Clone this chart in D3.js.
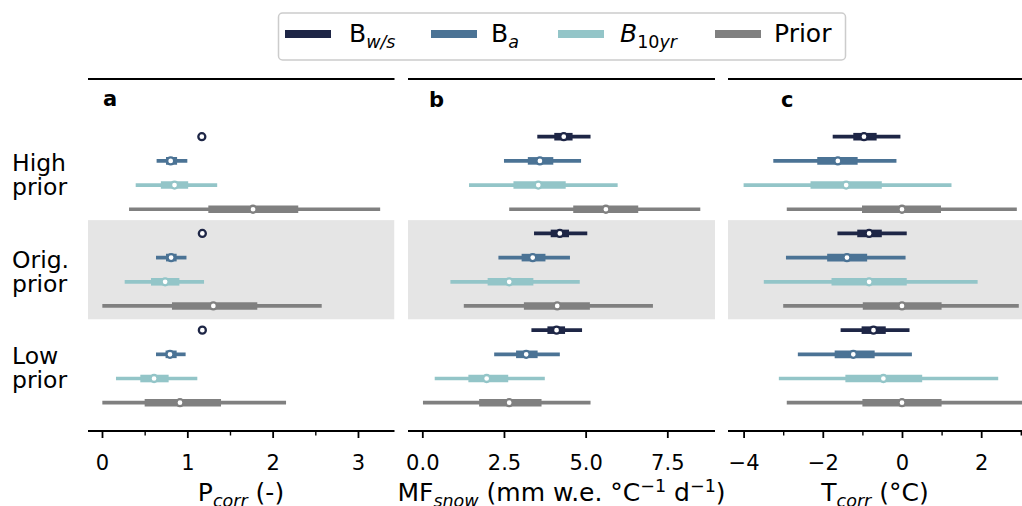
<!DOCTYPE html>
<html><head><meta charset="utf-8">
<script src="https://cdn.jsdelivr.net/npm/d3@7"></script>
<style>
html,body{margin:0;padding:0;background:#fff;}
svg{display:block;font-family:"DejaVu Sans",sans-serif;}
</style></head>
<body><svg id="chart" width="1022" height="506"></svg>
<script>
// ---------------- DATA ----------------
// each entry: [low whisker, q1, median, q3, high whisker]; groups: High, Orig., Low prior
const groups = ["High prior", "Orig. prior", "Low prior"];
const groupLines = [["High","prior"],["Orig.","prior"],["Low","prior"]];
const seriesNames = ["Bws", "Ba", "B10yr", "Prior"];

// Panel a: Pcorr (-)
const pcorr_Bws   = [[1.165,1.168,1.170,1.172,1.175],[1.170,1.173,1.176,1.178,1.180],[1.170,1.173,1.176,1.178,1.180]];
const pcorr_Ba    = [[0.64,0.75,0.805,0.88,1.00],[0.633,0.75,0.81,0.875,0.99],[0.633,0.745,0.797,0.875,0.98]];
const pcorr_B10yr = [[0.395,0.69,0.85,1.01,1.35],[0.266,0.574,0.74,0.907,1.196],[0.164,0.449,0.61,0.781,1.117]];
const pcorr_Prior = [[0.317,1.246,1.77,2.30,3.26],[0.004,0.82,1.305,1.82,2.575],[0.004,0.50,0.914,1.395,2.157]];

// Panel b: MFsnow (mm w.e. °C-1 d-1)
const mf_Bws   = [[3.52,4.04,4.33,4.60,5.15],[3.42,3.93,4.21,4.49,5.05],[3.34,3.83,4.11,4.37,4.89]];
const mf_Ba    = [[2.50,3.23,3.60,4.01,4.86],[2.33,3.04,3.38,3.77,4.52],[2.20,2.87,3.18,3.53,4.21]];
const mf_B10yr = [[1.43,2.79,3.55,4.39,5.98],[0.86,2.00,2.66,3.40,4.82],[0.38,1.41,1.97,2.63,3.75]];
const mf_Prior = [[2.66,4.62,5.62,6.61,8.51],[1.27,3.11,4.13,5.13,7.06],[0.02,1.74,2.66,3.65,5.15]];

// Panel c: Tcorr (°C)
const t_Bws   = [[-1.75,-1.23,-0.96,-0.64,-0.04],[-1.63,-1.13,-0.83,-0.51,0.12],[-1.55,-1.02,-0.72,-0.41,0.19]];
const t_Ba    = [[-3.25,-2.14,-1.62,-1.12,-0.14],[-2.93,-1.89,-1.39,-0.88,0.09],[-2.63,-1.70,-1.23,-0.69,0.25]];
const t_B10yr = [[-4.00,-2.31,-1.41,-0.51,1.25],[-3.49,-1.78,-0.83,0.12,1.91],[-3.11,-1.43,-0.47,0.51,2.43]];
const t_Prior = [[-2.91,-1.01,0.0,0.985,2.90],[-3.00,-0.99,0.0,1.00,2.95],[-2.91,-1.00,0.0,1.00,3.10]];

// Tick values / labels
const ticksA = [0,1,2,3], minorA = [0.5,1.5,2.5];
const ticksB = [0,2.5,5,7.5], minorB = [];
const ticksC = [-4,-2,0,2], minorC = [-3,-1,1,3];
const panelLetters = ["a","b","c"];

// ---------------- STYLE / LAYOUT ----------------
const colors = {Bws:"#1e2646", Ba:"#4b7395", B10yr:"#93c5c8", Prior:"#808080"};
const W = 1022, H = 506;
const yTop = 79, yBot = 431;
const svg = d3.select("#chart");
const defs = svg.append("defs");
defs.append("clipPath").attr("id","fig").append("rect").attr("x",0).attr("y",0).attr("width",W).attr("height",H);

const y = d3.scaleLinear().domain([0, 11]).range([136.7, 402.7]);

const panels = [
  {data:{Bws:pcorr_Bws,Ba:pcorr_Ba,B10yr:pcorr_B10yr,Prior:pcorr_Prior}, domain:[-0.164,3.428], range:[88,394.5],
   ticks:ticksA, minor:minorA, fmt:d=>String(d), letterX:103, letterY:106},
  {data:{Bws:mf_Bws,Ba:mf_Ba,B10yr:mf_B10yr,Prior:mf_Prior}, domain:[-0.438,8.96], range:[408,715],
   ticks:ticksB, minor:minorB, fmt:d=>d.toFixed(1), letterX:429, letterY:107},
  {data:{Bws:t_Bws,Ba:t_Ba,B10yr:t_B10yr,Prior:t_Prior}, domain:[-4.394,3.359], range:[728,1035],
   ticks:ticksC, minor:minorC, fmt:d=>(d<0?"\u2212"+Math.abs(d):String(d)), letterX:781, letterY:107}
];

panels.forEach((p, pi) => {
  const x = d3.scaleLinear().domain(p.domain).range(p.range);
  const g = svg.append("g").attr("clip-path","url(#fig)");
  const cid = "pclip"+pi;
  defs.append("clipPath").attr("id",cid).append("rect")
     .attr("x",p.range[0]).attr("y",yTop).attr("width",p.range[1]-p.range[0]).attr("height",yBot-yTop);
  const inner = g.append("g").attr("clip-path","url(#"+cid+")");
  // grey band for original prior
  inner.append("rect").attr("x",p.range[0]).attr("width",p.range[1]-p.range[0])
    .attr("y", y(3.45)).attr("height", y(7.55)-y(3.45)).attr("fill","#e5e5e5");
  groups.forEach((gname, gi) => {
    seriesNames.forEach((s, si) => {
      const v = p.data[s][gi];
      const yy = y(gi*4 + si);
      inner.append("line").attr("x1",x(v[0])).attr("x2",x(v[4])).attr("y1",yy).attr("y2",yy)
        .attr("stroke",colors[s]).attr("stroke-width",3.7);
      inner.append("line").attr("x1",x(v[1])).attr("x2",x(v[3])).attr("y1",yy).attr("y2",yy)
        .attr("stroke",colors[s]).attr("stroke-width",7.6);
      inner.append("circle").attr("cx",x(v[2])).attr("cy",yy).attr("r",3.5)
        .attr("fill","#fff").attr("stroke",colors[s]).attr("stroke-width",2.3);
    });
  });
  // top spine
  g.append("line").attr("x1",p.range[0]).attr("x2",p.range[1]).attr("y1",yTop).attr("y2",yTop)
    .attr("stroke","#000").attr("stroke-width",2.2);
  // bottom axis
  const ax = g.append("g").attr("transform",`translate(0,${yBot})`)
    .call(d3.axisBottom(x).tickValues(p.ticks).tickFormat(p.fmt).tickSize(7).tickSizeOuter(0));
  ax.select(".domain").attr("stroke","#000").attr("stroke-width",2.2)
    .attr("d",`M${p.range[0]},0H${p.range[1]}`);
  ax.selectAll(".tick line").attr("stroke","#000").attr("stroke-width",1.8);
  ax.selectAll(".tick text").attr("y",39).attr("dy",null).attr("fill","#000")
    .style("font-size","21px").style("font-family","DejaVu Sans");
  if (p.minor.length) {
    const mx = g.append("g").attr("transform",`translate(0,${yBot})`)
      .call(d3.axisBottom(x).tickValues(p.minor).tickFormat("").tickSize(4.5).tickSizeOuter(0));
    mx.select(".domain").remove();
    mx.selectAll(".tick line").attr("stroke","#000").attr("stroke-width",1.4);
  }
  // panel letter
  g.append("text").attr("x",p.letterX).attr("y",p.letterY).text(panelLetters[pi])
    .attr("font-weight","bold").attr("font-size",21).attr("fill","#000");
});

// group labels
groupLines.forEach((lines, gi) => {
  const cy = y(gi*4 + 1.5);
  const t = svg.append("text").attr("x",12).attr("font-size",23.5).attr("fill","#000");
  t.append("tspan").attr("x",12).attr("y",cy-2).text(lines[0]);
  t.append("tspan").attr("x",12).attr("y",cy+22).text(lines[1]);
});

// axis labels
const labY = 501;
function axisLabel(cx, build){
  const t = svg.append("text").attr("x",cx).attr("y",labY).attr("text-anchor","middle")
    .attr("font-size",25).attr("fill","#000");
  build(t);
}
axisLabel(241, t => {
  t.append("tspan").text("P");
  t.append("tspan").attr("font-size","70%").attr("font-style","italic").attr("dy",6).text("corr");
  t.append("tspan").attr("dy",-6).text(" (-)");
});
axisLabel(561.5, t => {
  t.append("tspan").text("MF");
  t.append("tspan").attr("font-size","70%").attr("font-style","italic").attr("dy",6).text("snow");
  t.append("tspan").attr("dy",-6).text(" (mm w.e. \u00B0C");
  t.append("tspan").attr("font-size","70%").attr("dy",-9).text("\u22121");
  t.append("tspan").attr("dy",9).text(" d");
  t.append("tspan").attr("font-size","70%").attr("dy",-9).text("\u22121");
  t.append("tspan").attr("dy",9).text(")");
});
axisLabel(875, t => {
  t.append("tspan").text("T");
  t.append("tspan").attr("font-size","70%").attr("font-style","italic").attr("dy",6).text("corr");
  t.append("tspan").attr("dy",-6).text(" (\u00B0C)");
});

// legend
const leg = svg.append("g");
leg.append("rect").attr("x",278.5).attr("y",13).attr("width",567).attr("height",47).attr("rx",4)
  .attr("fill","#fff").attr("stroke","#cccccc").attr("stroke-width",1.5);
const legPos = [{line:285,text:349},{line:431,text:491},{line:558,text:620},{line:715,text:774}];
const legY = 34, legBase = 42;
seriesNames.forEach((s, i) => {
  leg.append("line").attr("x1",legPos[i].line).attr("x2",legPos[i].line+46).attr("y1",legY).attr("y2",legY)
    .attr("stroke",colors[s]).attr("stroke-width",8);
  const t = leg.append("text").attr("x",legPos[i].text).attr("y",legBase).attr("font-size",25).attr("fill","#000");
  if (s === "Bws") {
    t.append("tspan").text("B");
    t.append("tspan").attr("font-size","70%").attr("font-style","italic").attr("dy",6).text("w/s");
  } else if (s === "Ba") {
    t.append("tspan").text("B");
    t.append("tspan").attr("font-size","70%").attr("font-style","italic").attr("dy",6).text("a");
  } else if (s === "B10yr") {
    t.append("tspan").attr("font-style","italic").text("B");
    t.append("tspan").attr("font-size","70%").attr("dy",6).text("10");
    t.append("tspan").attr("font-size","70%").attr("font-style","italic").text("yr");
  } else {
    t.text("Prior");
  }
});
</script></body></html>
